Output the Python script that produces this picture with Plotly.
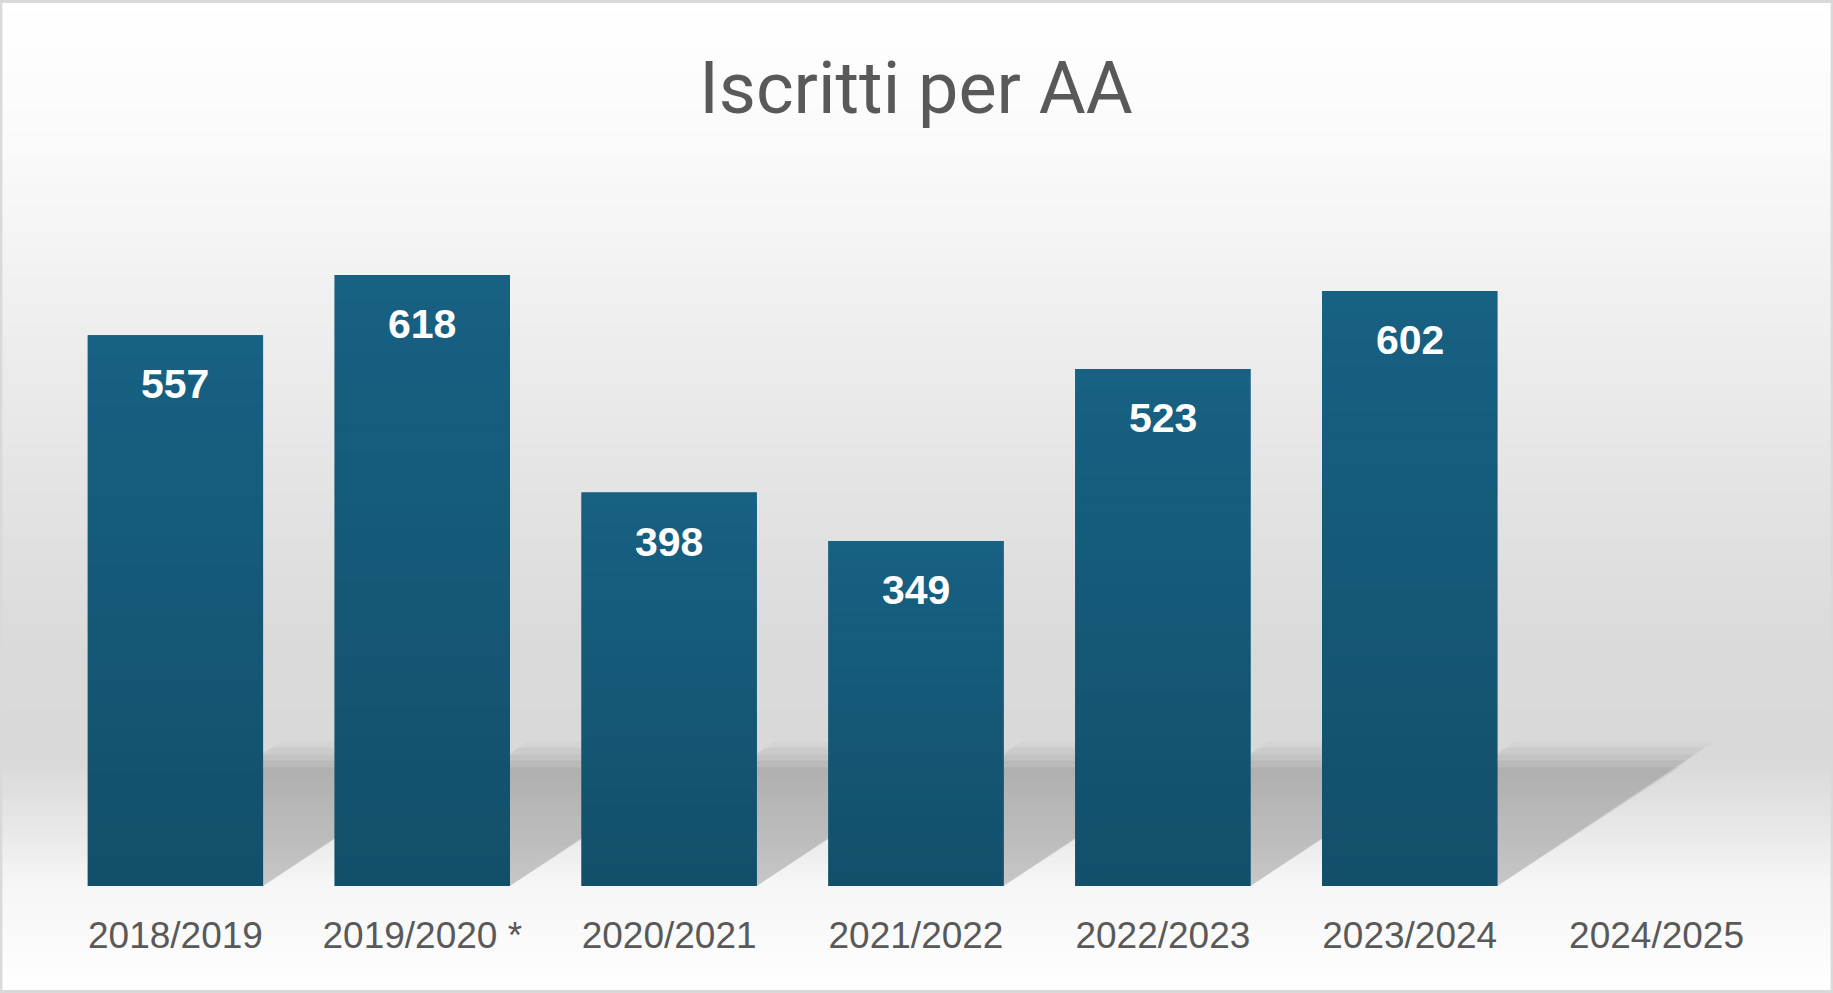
import plotly.graph_objects as go

# dati: iscritti per anno accademico
anni = ["2018/2019", "2019/2020 *", "2020/2021", "2021/2022", "2022/2023", "2023/2024", "2024/2025"]
iscritti = [557, 618, 398, 349, 523, 602, None]

W, H = 1833, 993
ml, mr, mt, mb = 52, 53, 194, 107
plot_h = H - mt - mb
plot_w = W - ml - mr


def py2paper(py):
    # pixel verticale -> coordinata paper
    return (H - mb - py) / plot_h


# sfondo a gradiente (bande orizzontali)
stops = [(0, 255), (150, 250), (330, 238), (500, 227), (650, 218), (760, 217), (830, 232), (880, 245), (900, 247), (993, 255)]


def grey_at(py):
    for (y0, g0), (y1, g1) in zip(stops[:-1], stops[1:]):
        if y0 <= py <= y1:
            return g0 + (g1 - g0) * (py - y0) / (y1 - y0)
    return 255


shapes = []
step = 6
for py in range(0, H, step):
    g = int(round(grey_at(py + step / 2)))
    shapes.append(dict(type="rect", xref="paper", yref="paper", layer="below",
                       x0=-ml / plot_w, x1=1 + mr / plot_w,
                       y0=py2paper(py + step), y1=py2paper(py),
                       fillcolor=f"rgb({g},{g},{g})", line_width=0))

# ombre inclinate (sfumate) dietro le barre
bw = 0.71
for i, v in enumerate(iscritti):
    if v is None:
        continue
    L, R = i - bw / 2, i + bw / 2
    for dx, h, a in [(0.88, 146, 0.025), (0.84, 140, 0.035), (0.80, 133, 0.04), (0.77, 127, 0.05), (0.74, 120, 0.05)]:
        path = f"M {L},0 L {R},0 L {R + dx},{h} L {L + dx - 0.1},{h} Z"
        shapes.append(dict(type="path", xref="x", yref="y", layer="below", path=path,
                           fillcolor=f"rgba(0,0,0,{a})", line_width=0))

# gradiente verticale sulle barre
top_c, bot_c = (23, 97, 131), (18, 79, 106)
nb = 24
for i, v in enumerate(iscritti):
    if v is None:
        continue
    for k in range(nb):
        t = (k + 0.5) / nb
        c = [round(bot_c[j] + (top_c[j] - bot_c[j]) * t) for j in range(3)]
        shapes.append(dict(type="rect", xref="x", yref="y", layer="above",
                           x0=i - bw / 2, x1=i + bw / 2, y0=v * k / nb, y1=v * (k + 1) / nb,
                           fillcolor=f"rgb({c[0]},{c[1]},{c[2]})", line_width=0))

# bordo esterno
shapes.append(dict(type="rect", xref="paper", yref="paper", layer="above",
                   x0=-ml / plot_w + 0.0005, x1=1 + mr / plot_w - 0.0005,
                   y0=py2paper(H - 1.5), y1=py2paper(1.5),
                   line=dict(color="#d9d9d9", width=3)))

xs = list(range(len(anni)))
fig = go.Figure()
fig.add_trace(go.Bar(x=xs, y=iscritti, width=bw, marker=dict(color="#155879", line_width=0),
                     hoverinfo="skip"))

ann = []
for i, v in enumerate(iscritti):
    if v is None:
        continue
    ann.append(dict(x=i, y=v, xref="x", yref="y", text=str(v), showarrow=False,
                    yanchor="middle", yshift=-49,
                    font=dict(family="Liberation Sans", size=41, color="white", weight="bold")))

fig.update_layout(
    width=W, height=H,
    margin=dict(l=ml, r=mr, t=mt, b=mb),
    paper_bgcolor="white", plot_bgcolor="rgba(0,0,0,0)",
    showlegend=False,
    title=dict(text="Iscritti per AA", x=0.5, xanchor="center", xref="paper",
               y=1 - 88 / H, yanchor="middle", yref="container",
               font=dict(family="Roboto", size=72, color="#595959")),
    shapes=shapes,
    annotations=ann,
    xaxis=dict(range=[-0.5, 6.5], tickvals=xs, ticktext=anni, showgrid=False, zeroline=False,
               showline=False, ticks="", ticklabelstandoff=24,
               tickfont=dict(family="Liberation Sans", size=37, color="#595959")),
    yaxis=dict(range=[0, 700], visible=False, showgrid=False, zeroline=False),
)

fig.write_html("out.html", config={"displayModeBar": False},
               post_script="document.body.style.margin='0';")
